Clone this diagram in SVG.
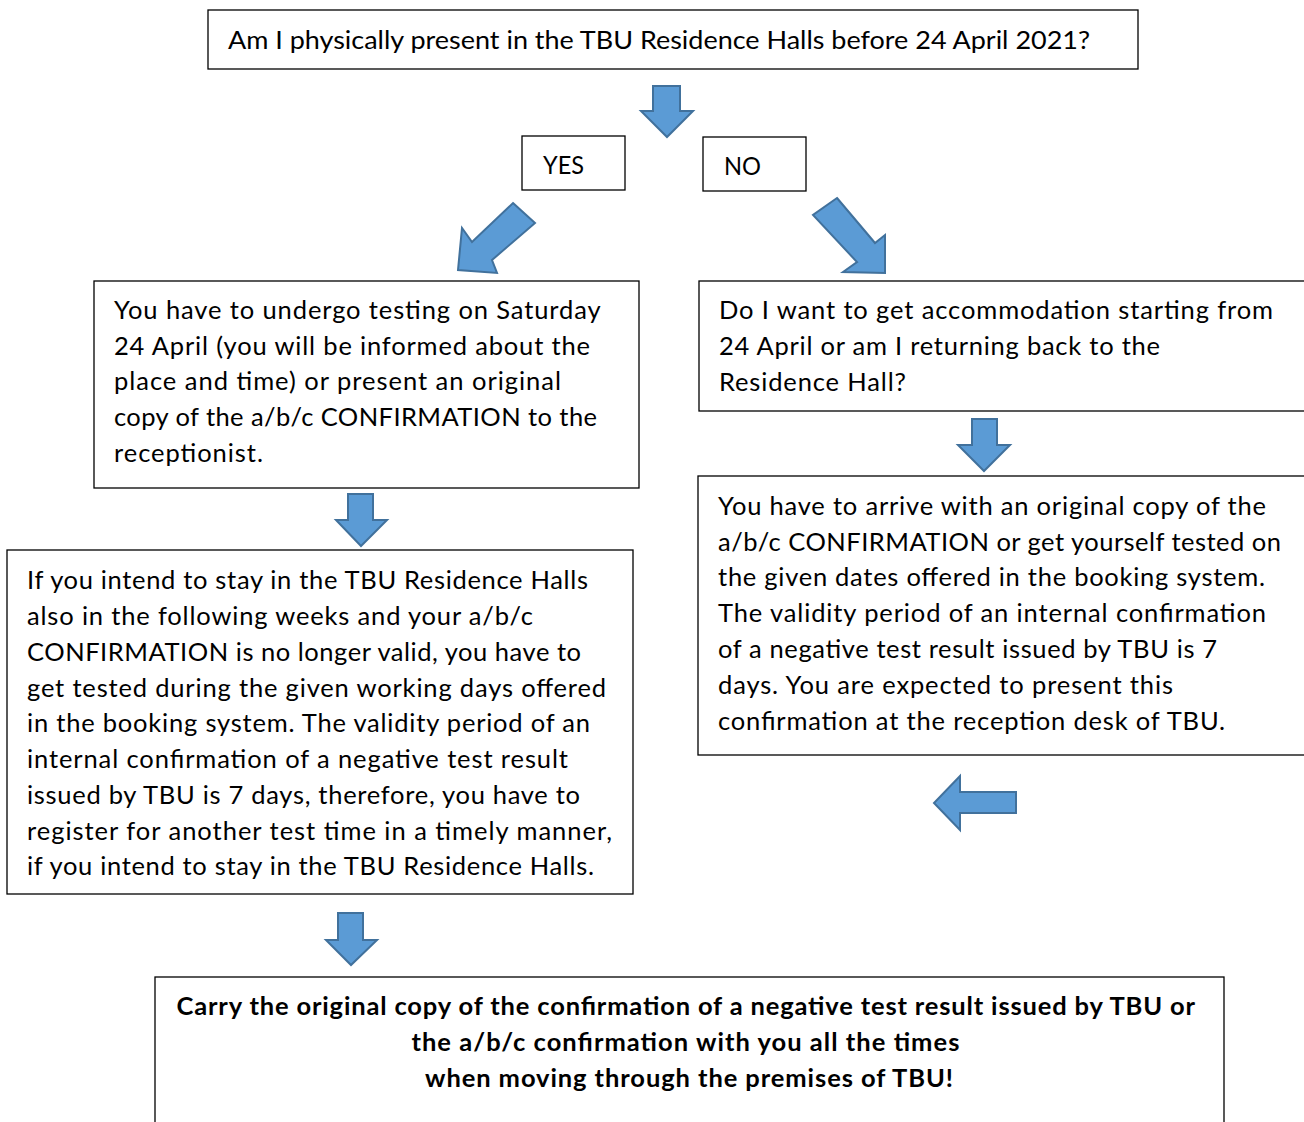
<svg xmlns="http://www.w3.org/2000/svg" width="1304" height="1122" viewBox="0 0 1304 1122">
<style>
.box{fill:#fff;stroke:#000;stroke-width:1.3}
.t{font-family:Lato,"Open Sans","Liberation Sans",sans-serif;font-size:25.5px;fill:#000}
.b{font-weight:bold;text-anchor:middle}
.arr{fill:#5B9BD5;stroke:#41719C;stroke-width:2;stroke-linejoin:miter}
</style>
<rect width="1304" height="1122" fill="#fff"/>
<g id="connectors">
<polygon class="arr" points="653,86 680,86 680,111 693,111 667,137 641,111 653,111"/>
<polygon class="arr" points="513,203 535,223 492,260 497,273 458,270 462,228 472,242"/>
<polygon class="arr" points="837,198 875,243 885,235 885,273 843,272 857,262 813,215"/>
<polygon class="arr" points="348,494 373,494 373,520 387,520 361,546 336,520 348,520"/>
<polygon class="arr" points="972,419 997,419 997,445 1010,445 984,471 958,445 972,445"/>
<polygon class="arr" points="1016,792 1016,813 960,813 960,830 934,803 960,776 960,792"/>
<polygon class="arr" points="338,913 363,913 363,940 377,940 351,965 326,940 338,940"/>
</g>
<g id="q1">
<rect class="box" x="208" y="10" width="930" height="59"/>
<text class="t" x="228" y="49" textLength="862" lengthAdjust="spacingAndGlyphs">Am I physically present in the TBU Residence Halls before 24 April 2021?</text>
</g>
<g id="yes">
<rect class="box" x="522" y="136" width="103" height="54"/>
<text class="t" x="543" y="174" textLength="41" lengthAdjust="spacingAndGlyphs">YES</text>
</g>
<g id="no">
<rect class="box" x="703" y="137" width="103" height="54"/>
<text class="t" x="724" y="175" textLength="37" lengthAdjust="spacingAndGlyphs">NO</text>
</g>
<g id="yes-box">
<rect class="box" x="94" y="281" width="545" height="207"/>
<text class="t" lengthAdjust="spacingAndGlyphs">
<tspan x="114" y="319" textLength="486">You have to undergo testing on Saturday</tspan>
<tspan x="114" y="355" textLength="476">24 April (you will be informed about the</tspan>
<tspan x="114" y="390" textLength="447">place and time) or present an original</tspan>
<tspan x="114" y="426" textLength="483">copy of the a/b/c CONFIRMATION to the</tspan>
<tspan x="114" y="462" textLength="149">receptionist.</tspan>
</text>
</g>
<g id="no-box">
<rect class="box" x="699" y="281" width="620" height="130"/>
<text class="t" lengthAdjust="spacingAndGlyphs">
<tspan x="719" y="319" textLength="554">Do I want to get accommodation starting from</tspan>
<tspan x="719" y="355" textLength="441">24 April or am I returning back to the</tspan>
<tspan x="719" y="391" textLength="187">Residence Hall?</tspan>
</text>
</g>
<g id="arrive-box">
<rect class="box" x="698" y="476" width="620" height="279"/>
<text class="t" lengthAdjust="spacingAndGlyphs">
<tspan x="718" y="515" textLength="548">You have to arrive with an original copy of the</tspan>
<tspan x="718" y="551" textLength="563">a/b/c CONFIRMATION or get yourself tested on</tspan>
<tspan x="718" y="586" textLength="547">the given dates offered in the booking system.</tspan>
<tspan x="718" y="622" textLength="548">The validity period of an internal confirmation</tspan>
<tspan x="718" y="658" textLength="499">of a negative test result issued by TBU is 7</tspan>
<tspan x="718" y="694" textLength="455">days. You are expected to present this</tspan>
<tspan x="718" y="730" textLength="507">confirmation at the reception desk of TBU.</tspan>
</text>
</g>
<g id="stay-box">
<rect class="box" x="7" y="550" width="626" height="344"/>
<text class="t" lengthAdjust="spacingAndGlyphs">
<tspan x="27" y="589" textLength="561">If you intend to stay in the TBU Residence Halls</tspan>
<tspan x="27" y="625" textLength="506">also in the following weeks and your a/b/c</tspan>
<tspan x="27" y="661" textLength="554">CONFIRMATION is no longer valid, you have to</tspan>
<tspan x="27" y="697" textLength="579">get tested during the given working days offered</tspan>
<tspan x="27" y="732" textLength="563">in the booking system. The validity period of an</tspan>
<tspan x="27" y="768" textLength="541">internal confirmation of a negative test result</tspan>
<tspan x="27" y="804" textLength="553">issued by TBU is 7 days, therefore, you have to</tspan>
<tspan x="27" y="840" textLength="585">register for another test time in a timely manner,</tspan>
<tspan x="27" y="875" textLength="567">if you intend to stay in the TBU Residence Halls.</tspan>
</text>
</g>
<g id="carry-box">
<rect class="box" x="155" y="977" width="1069" height="160"/>
<text class="t b" lengthAdjust="spacingAndGlyphs">
<tspan x="689" y="1015" textLength="1018">Carry the original copy of the confirmation of a negative test result issued by TBU or</tspan>
<tspan x="689" y="1051" textLength="548">the a/b/c confirmation with you all the times</tspan>
<tspan x="689" y="1087" textLength="528">when moving through the premises of TBU!</tspan>
</text>
</g>
</svg>
